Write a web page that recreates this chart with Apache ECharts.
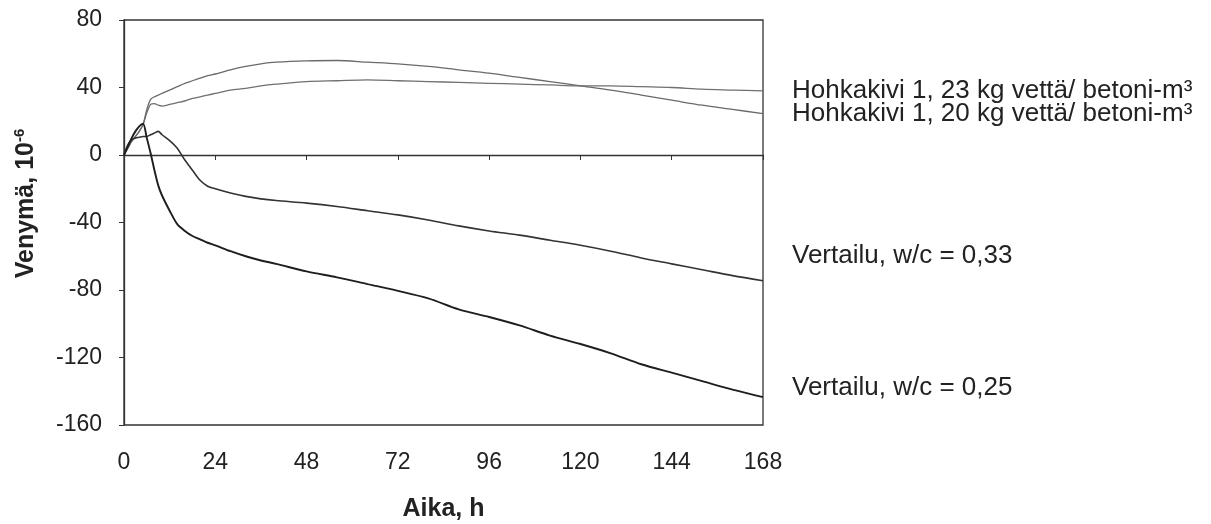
<!DOCTYPE html>
<html>
<head>
<meta charset="utf-8">
<script src="https://cdn.jsdelivr.net/npm/echarts@6/dist/echarts.min.js"></script>
<style>
  html, body { margin: 0; padding: 0; background: #fff; }
  #chart { width: 1211px; height: 524px; }
</style>
</head>
<body>
<div id="chart"></div>
<script>
// aika, h
const hours = [0, 1, 2, 3, 4, 5, 6, 7, 8, 9, 10, 12, 14, 16, 18, 20, 22, 24, 28, 32, 36, 40,
  48, 56, 64, 72, 80, 88, 96, 104, 112, 120, 128, 136, 144, 152, 160, 168];

// venymä, 10^-6
const hohka23 = [0, 4, 8, 11, 14, 18, 25, 30, 30.5, 29.5, 29, 30, 31, 32, 33.5, 34.5, 35.5, 36.5, 38.5, 39.5, 41, 42,
  43.5, 44, 44.5, 44, 43.5, 43, 42.5, 42, 41.5, 41, 41, 40.5, 40, 39, 38.5, 38];
const hohka20 = [0, 4, 8, 11, 14, 18, 27, 33, 34.5, 35.5, 36.5, 38.5, 40.5, 42.5, 44, 45.5, 47, 48, 50.5, 52.5, 54, 55,
  55.8, 56, 55, 54, 52.5, 50.5, 48.5, 46, 43.5, 41, 38.5, 35.5, 32.5, 29.5, 27, 24.5];
const ref033 = [0, 6, 9, 10, 10.5, 11, 11, 12, 13, 14, 12, 8.5, 4, -3, -9, -15, -18.5, -20, -22.5, -24.5, -26, -27,
  -28.5, -30.5, -33, -35.5, -38.5, -42, -45, -47.5, -50.5, -53.5, -57, -61, -64.5, -68, -71.5, -74.5];
const ref025 = [0, 5, 10, 14, 17, 18.5, 10, 1, -9, -18, -24, -33, -41, -45, -48, -50, -52, -53.5, -57, -60, -62.5, -64.5,
  -69, -72.5, -76.5, -80.5, -85, -91.5, -96, -101, -107, -112, -117.5, -124, -129, -134, -139, -143.5];

const seriesNames = [
  'Hohkakivi 1, 23 kg vettä/ betoni-m³',
  'Hohkakivi 1, 20 kg vettä/ betoni-m³',
  'Vertailu, w/c = 0,33',
  'Vertailu, w/c = 0,25',
];
const seriesValues = [hohka23, hohka20, ref033, ref025];
const lineColors = ['#707070', '#6a6a6a', '#333', '#1e1e1e'];
const lineWidths = [1.3, 1.3, 1.6, 1.9];
// tekstien keskikohdat (y) kuvan oikealla puolella
const labelMids = [90, 113, 255, 387];

const FONT = '"Liberation Sans", Arial, sans-serif';

const chart = echarts.init(document.getElementById('chart'));

const pairs = (vals) => hours.map((h, i) => [h, vals[i]]);

chart.setOption({
  animation: false,
  backgroundColor: '#fff',
  grid: {
    left: 124, right: 448, top: 20, bottom: 99,
    containLabel: false, outerBoundsMode: 'none',
    show: true, borderColor: '#333', borderWidth: 1.3,
  },
  xAxis: [
    {
      type: 'value', min: 0, max: 168, interval: 24,
      name: 'Aika, h', nameLocation: 'middle', nameGap: 72,
      nameTextStyle: { fontFamily: FONT, fontSize: 25, fontWeight: 'bold', color: '#222' },
      axisLine: { onZero: false, show: false },
      axisTick: { show: false },
      splitLine: { show: false },
      axisLabel: { margin: 26, fontFamily: FONT, fontSize: 23, color: '#222' },
    },
    {
      type: 'value', min: 0, max: 168, interval: 24, position: 'bottom',
      axisLine: { onZero: true, onZeroAxisIndex: 0, lineStyle: { color: '#333', width: 1.3 } },
      axisTick: { show: true, length: 5, lineStyle: { color: '#333' } },
      axisLabel: { show: false },
      splitLine: { show: false },
    },
  ],
  yAxis: {
    type: 'value', min: -160, max: 80, interval: 40,
    name: '{a|Venymä, 10}{s|-6}', nameLocation: 'middle', nameGap: 84,
    nameTextStyle: {
      padding: [0, 0, 0, 38],
      rich: {
        a: { fontFamily: FONT, fontSize: 25, fontWeight: 'bold', color: '#222' },
        s: { fontFamily: FONT, fontSize: 15, fontWeight: 'bold', color: '#222', padding: [0, 0, 13, 0] },
      },
    },
    axisLine: { show: true, lineStyle: { color: '#333', width: 1.3 } },
    axisTick: { show: true, length: 5, lineStyle: { color: '#333' } },
    splitLine: { show: false },
    axisLabel: { margin: 22, fontFamily: FONT, fontSize: 23, color: '#222' },
  },
  series: seriesNames.map((name, i) => ({
    name,
    type: 'line',
    xAxisIndex: 0,
    data: pairs(seriesValues[i]),
    showSymbol: false,
    smooth: 0.3,
    lineStyle: { color: lineColors[i], width: lineWidths[i] },
    z: 3 + i,
  })),
  graphic: seriesNames.map((name, i) => ({
    type: 'text',
    left: 792,
    top: labelMids[i] - 12,
    style: { text: name, font: '26px ' + FONT, fill: '#222' },
  })),
});
</script>
</body>
</html>
